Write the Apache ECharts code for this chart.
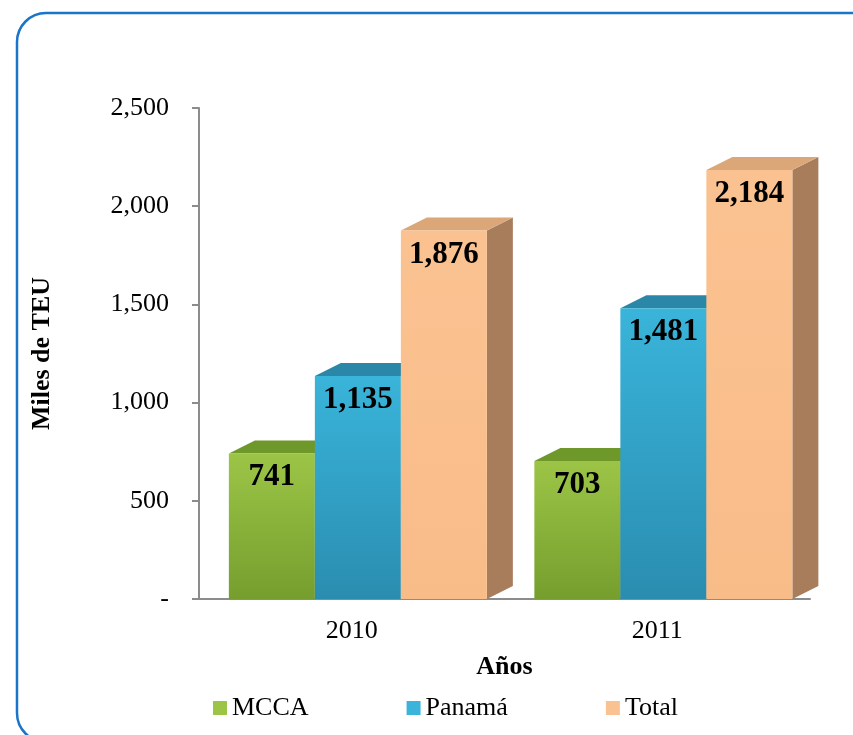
<!DOCTYPE html>
<html>
<head>
<meta charset="utf-8">
<script src="https://cdn.jsdelivr.net/npm/echarts@6/dist/echarts.min.js"></script>
<style>
  html, body { margin: 0; padding: 0; background: #fff; }
  #chart { width: 853px; height: 735px; }
</style>
</head>
<body>
<div id="chart"></div>
<script>
const categories = ["2010", "2011"];
const seriesNames = ["MCCA", "Panamá", "Total"];
const mcca = [741, 703];
const panama = [1135, 1481];
const total = [1876, 2184];
const seriesValues = [mcca, panama, total];

// front (top, bottom), top face, side face
const palette = [
  { front: ["#9cc547", "#759e2e"], top: "#6f982b", side: "#5f8325" },
  { front: ["#3ab4da", "#2a8db0"], top: "#2a87a8", side: "#236f8a" },
  { front: ["#fbc291", "#f8bc89"], top: "#dba678", side: "#a87d5c" },
];

var myChart = echarts.init(document.getElementById("chart"));
const font = "Liberation Serif";
const dx = 26, dy = 13;

function makeRender(idx) {
  return function (params, api) {
    const cat = api.value(0);
    const val = api.value(1);
    const base = api.coord([cat, 0]);
    const top = api.coord([cat, val]);
    const band = api.size([1, 0])[0];
    const w = band * 0.2815;
    const x0 = base[0] + band * 0.02 + (idx - 1.5) * w;
    const x1 = x0 + w;
    const ty = top[1], by = base[1];
    const c = palette[idx];
    return {
      type: "group",
      children: [
        {
          type: "polygon",
          shape: { points: [[x1, ty], [x1 + dx, ty - dy], [x1 + dx, by - dy], [x1, by]] },
          style: { fill: c.side },
        },
        {
          type: "polygon",
          shape: { points: [[x0, ty], [x0 + dx, ty - dy], [x1 + dx, ty - dy], [x1, ty]] },
          style: { fill: c.top },
        },
        {
          type: "rect",
          shape: { x: x0, y: ty, width: w, height: by - ty },
          style: {
            fill: new echarts.graphic.LinearGradient(0, 0, 0, 1, [
              { offset: 0, color: c.front[0] },
              { offset: 1, color: c.front[1] },
            ]),
          },
        },
        {
          type: "text",
          x: (x0 + x1) / 2,
          y: ty + 24,
          style: {
            text: val.toLocaleString("en-US"),
            font: "bold 31px " + font,
            fill: "#000",
            align: "center",
            verticalAlign: "middle",
          },
        },
      ],
    };
  };
}

const option = {
  animation: false,
  graphic: [
    {
      type: "rect",
      shape: { x: 17, y: 13, width: 900, height: 729, r: 29 },
      style: { fill: "none", stroke: "#1b74c8", lineWidth: 2.5 },
      z: 100,
    },
  ],
  grid: { left: 199, right: 43, top: 108, bottom: 136 },
  legend: {
    left: 208,
    top: 690,
    itemWidth: 14,
    itemHeight: 14,
    itemGap: 98,
    icon: "rect",
    textStyle: { fontFamily: font, fontSize: 26, color: "#000" },
    data: seriesNames,
  },
  xAxis: {
    type: "category",
    data: categories,
    name: "Años",
    nameLocation: "middle",
    nameGap: 55,
    nameTextStyle: { fontFamily: font, fontSize: 26, fontWeight: "bold", color: "#000" },
    axisTick: { show: false },
    axisLine: { lineStyle: { color: "#8c8c8c", width: 2 } },
    axisLabel: { fontFamily: font, fontSize: 26, color: "#000", margin: 19 },
  },
  yAxis: {
    type: "value",
    min: 0,
    max: 2500,
    interval: 500,
    name: "Miles de TEU",
    nameLocation: "middle",
    nameGap: 144,
    nameTextStyle: { fontFamily: font, fontSize: 26, fontWeight: "bold", color: "#000" },
    axisLine: { show: true, lineStyle: { color: "#8c8c8c", width: 2 } },
    axisTick: { show: true, length: 7, lineStyle: { color: "#8c8c8c", width: 2 } },
    splitLine: { show: false },
    axisLabel: {
      fontFamily: font,
      fontSize: 26,
      color: "#000",
      margin: 30,
      formatter: (v) => (v === 0 ? "-" : v.toLocaleString("en-US")),
    },
  },
  series: seriesNames.map((name, i) => ({
    name: name,
    type: "custom",
    renderItem: makeRender(i),
    itemStyle: { color: palette[i].front[0] },
    encode: { x: 0, y: 1 },
    data: seriesValues[i].map((v, k) => [k, v]),
    z: 2 + i,
  })),
};

myChart.setOption(option);
</script>
</body>
</html>
